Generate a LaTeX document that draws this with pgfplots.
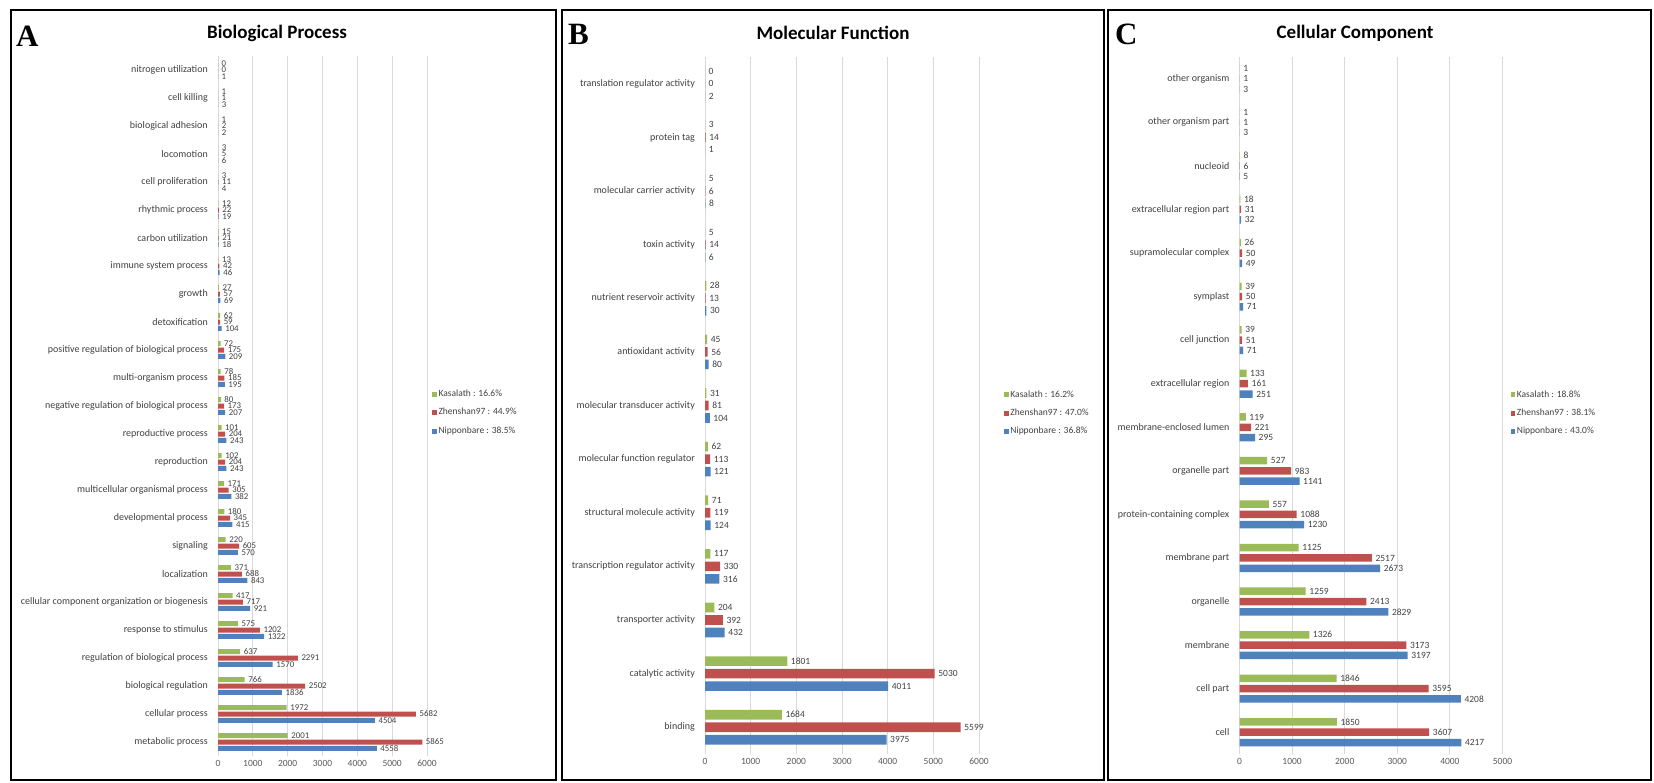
\documentclass[border=0pt]{standalone}
\usepackage{fontspec}
\setmainfont{Carlito}
\newfontfamily\timesfont{Liberation Serif}
\usepackage{pgfplots}
\usepackage{pgfplotstable}
\pgfplotsset{compat=1.18}
\definecolor{kgreen}{HTML}{9BBB59}
\definecolor{zred}{HTML}{C0504D}
\definecolor{nblue}{HTML}{4F81BD}
\definecolor{lblgray}{HTML}{404040}
\definecolor{tickgray}{HTML}{595959}
\definecolor{gridgray}{HTML}{D9D9D9}

\pgfplotstableread[col sep=comma]{
label,K,Z,N
metabolic process,2001,5865,4558
cellular process,1972,5682,4504
biological regulation,766,2502,1836
regulation of biological process,637,2291,1570
response to stimulus,575,1202,1322
cellular component organization or biogenesis,417,717,921
localization,371,688,843
signaling,220,605,570
developmental process,180,345,415
multicellular organismal process,171,305,382
reproduction,102,204,243
reproductive process,101,204,243
negative regulation of biological process,80,173,207
multi-organism process,78,185,195
positive regulation of biological process,72,175,209
detoxification,62,59,104
growth,27,57,69
immune system process,13,42,46
carbon utilization,15,21,18
rhythmic process,12,22,19
cell proliferation,3,11,4
locomotion,3,5,6
biological adhesion,1,2,2
cell killing,1,1,3
nitrogen utilization,0,0,1
}\bpdata

\pgfplotstableread[col sep=comma]{
label,K,Z,N
binding,1684,5599,3975
catalytic activity,1801,5030,4011
transporter activity,204,392,432
transcription regulator activity,117,330,316
structural molecule activity,71,119,124
molecular function regulator,62,113,121
molecular transducer activity,31,81,104
antioxidant activity,45,56,80
nutrient reservoir activity,28,13,30
toxin activity,5,14,6
molecular carrier activity,5,6,8
protein tag,3,14,1
translation regulator activity,0,0,2
}\mfdata

\pgfplotstableread[col sep=comma]{
label,K,Z,N
cell,1850,3607,4217
cell part,1846,3595,4208
membrane,1326,3173,3197
organelle,1259,2413,2829
membrane part,1125,2517,2673
protein-containing complex,557,1088,1230
organelle part,527,983,1141
membrane-enclosed lumen,119,221,295
extracellular region,133,161,251
cell junction,39,51,71
symplast,39,50,71
supramolecular complex,26,50,49
extracellular region part,18,31,32
nucleoid,8,6,5
other organism part,1,1,3
other organism,1,1,3
}\ccdata

\pgfplotsset{
  goaxis/.style={
    xbar, scale only axis, anchor=south west,
    xmin=0, ymin=-0.5,
    axis line style={draw=none},
    major tick length=0pt,
    tick style={draw=none},
    xmajorgrids,
    major grid style={draw=gridgray, line width=0.9pt},
    point meta=x,
    nodes near coords,
    nodes near coords style={font=\fontsize{9.5}{10}\selectfont, text=lblgray, anchor=west, inner xsep=3.5pt, inner ysep=0pt},
    xticklabel style={font=\fontsize{9.5}{10}\selectfont, text=tickgray, anchor=north, inner ysep=0pt, yshift=-4pt},
    yticklabel style={font=\fontsize{10}{11}\selectfont, text=lblgray, anchor=east, inner xsep=0pt, xshift=-10pt},
    /pgf/number format/assume math mode=true,
    /pgf/number format/1000 sep={},
    clip=false,
    legend image code/.code={\fill[##1] (0pt,-2.4pt) rectangle (4.8pt,2.4pt);},
    legend style={draw=none, fill=none, inner sep=0pt, anchor=west,
      font=\fontsize{9.5}{10}\selectfont, text=lblgray,
      nodes={inner sep=0pt, text height=6.5pt, text depth=2pt},
      row sep=9.9pt,
      /tikz/every odd column/.append style={column sep=1.5pt}},
    legend cell align=left,
  }
}

\begin{document}
\begin{tikzpicture}[x=1pt,y=1pt]
\useasboundingbox (0,0) rectangle (1654,-782);
% frames
\draw[line width=2pt] (11,-10) rectangle (556,-780);
\draw[line width=2pt] (562,-10) rectangle (1104,-780);
\draw[line width=2pt] (1108,-10) rectangle (1651,-780);
% panel letters
\node[anchor=base west, inner sep=0pt, font=\timesfont\bfseries\fontsize{31}{31}\selectfont] at (16,-46) {A};
\node[anchor=base west, inner sep=0pt, font=\timesfont\bfseries\fontsize{31}{31}\selectfont] at (568,-44) {B};
\node[anchor=base west, inner sep=0pt, font=\timesfont\bfseries\fontsize{31}{31}\selectfont] at (1115,-44) {C};
% titles
\node[font=\bfseries\fontsize{19}{19}\selectfont] at (277,-33) {Biological Process};
\node[font=\bfseries\fontsize{19}{19}\selectfont] at (833,-33) {Molecular Function};
\node[font=\bfseries\fontsize{19}{19}\selectfont] at (1355,-33) {Cellular Component};

% Panel A
\begin{axis}[goaxis,
  at={(218pt,-756pt)}, width=209pt, height=700pt,
  xmax=6000, ymax=24.5,
  xtick={0,1000,...,6000},
  ytick={0,...,24},
  yticklabels from table={\bpdata}{label},
  bar width=5pt,
  nodes near coords style={font=\fontsize{8.8}{9}\selectfont},
  legend style={at={(1.024,0.4904)}},
]
\addplot[fill=kgreen, draw=none, bar shift=6.4pt] table[x=K, y expr=\coordindex]{\bpdata};
\addplot[fill=zred, draw=none, bar shift=0pt] table[x=Z, y expr=\coordindex]{\bpdata};
\addplot[fill=nblue, draw=none, bar shift=-6.4pt] table[x=N, y expr=\coordindex]{\bpdata};
\legend{Kasalath : 16.6\%, Zhenshan97 : 44.9\%, Nipponbare : 38.5\%}
\end{axis}

% Panel B
\begin{axis}[goaxis,
  at={(705pt,-754pt)}, width=274pt, height=697pt,
  xmax=6000, ymax=12.5,
  xtick={0,1000,...,6000},
  ytick={0,...,12},
  yticklabels from table={\mfdata}{label},
  bar width=9.6pt,
  legend style={at={(1.091,0.489)}},
]
\addplot[fill=kgreen, draw=none, bar shift=12.5pt] table[x=K, y expr=\coordindex]{\mfdata};
\addplot[fill=zred, draw=none, bar shift=0pt] table[x=Z, y expr=\coordindex]{\mfdata};
\addplot[fill=nblue, draw=none, bar shift=-12.5pt] table[x=N, y expr=\coordindex]{\mfdata};
\legend{Kasalath : 16.2\%, Zhenshan97 : 47.0\%, Nipponbare : 36.8\%}
\end{axis}

% Panel C
\begin{axis}[goaxis,
  at={(1239.5pt,-754pt)}, width=263pt, height=697pt,
  xmax=5000, ymax=15.5,
  xtick={0,1000,...,5000},
  ytick={0,...,15},
  yticklabels from table={\ccdata}{label},
  bar width=7.5pt,
  legend style={at={(1.030,0.489)}},
]
\addplot[fill=kgreen, draw=none, bar shift=10.3pt] table[x=K, y expr=\coordindex]{\ccdata};
\addplot[fill=zred, draw=none, bar shift=0pt] table[x=Z, y expr=\coordindex]{\ccdata};
\addplot[fill=nblue, draw=none, bar shift=-10.3pt] table[x=N, y expr=\coordindex]{\ccdata};
\legend{Kasalath : 18.8\%, Zhenshan97 : 38.1\%, Nipponbare : 43.0\%}
\end{axis}
\end{tikzpicture}
\end{document}
